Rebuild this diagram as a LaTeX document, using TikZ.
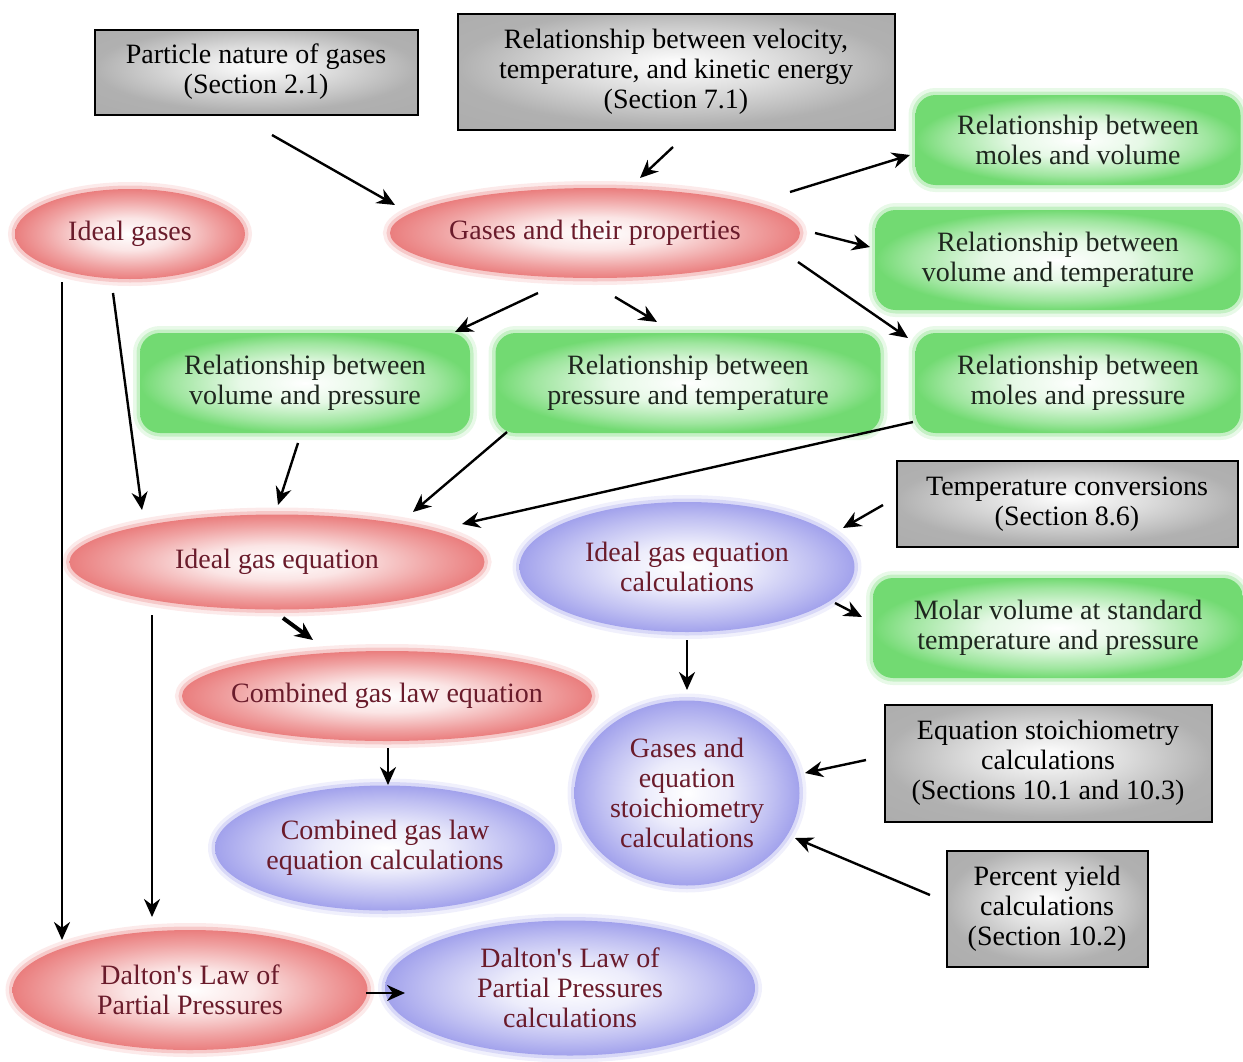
\documentclass[tikz,border=0pt]{standalone}
\usepackage{xcolor}
\usepackage{fontspec}
\setmainfont{Liberation Serif}[Ligatures=TeXOff]
\usetikzlibrary{arrows.meta, shapes.geometric}
\definecolor{gasred}{HTML}{EA7E7E}
\definecolor{gasblue}{HTML}{A2A2EC}
\definecolor{gasgreen}{HTML}{72DA72}
\definecolor{gasgray}{HTML}{A8A8A8}
\definecolor{gastext}{HTML}{6A1B2B}
\definecolor{boxtext}{HTML}{1E261E}
\pgfdeclareradialshading{redglow}{\pgfpoint{0bp}{0bp}}{color(0bp)=(white); color(9bp)=(gasred!20); color(19bp)=(gasred!72); color(25bp)=(gasred); color(50bp)=(gasred)}
\pgfdeclareradialshading{blueglow}{\pgfpoint{0bp}{0bp}}{color(0bp)=(white); color(9bp)=(gasblue!20); color(19bp)=(gasblue!68); color(25bp)=(gasblue); color(50bp)=(gasblue)}
\pgfdeclareradialshading{greenglow}{\pgfpoint{0bp}{0bp}}{color(0bp)=(white); color(10bp)=(gasgreen!18); color(20bp)=(gasgreen!68); color(25bp)=(gasgreen); color(50bp)=(gasgreen)}
\pgfdeclareradialshading{grayglow}{\pgfpoint{0bp}{4bp}}{color(0bp)=(white); color(12bp)=(gasgray!40); color(25bp)=(gasgray!90); color(50bp)=(gasgray)}
\newcommand\chartfont{\fontsize{14}{15}\selectfont}

\begin{document}
\begin{tikzpicture}[x=0.5pt, y=-0.5pt,
    halo/.style={preaction={draw=#1, line width=7pt, draw opacity=0.16}, preaction={draw=#1, line width=3.5pt, draw opacity=0.3}},
    oval/.style={ellipse, inner sep=0pt, inner xsep=-8pt, shading=redglow, halo=gasred, text=gastext, font=\chartfont, align=center},
    calcoval/.style={ellipse, inner sep=0pt, inner xsep=-4pt, shading=blueglow, halo=gasblue, text=gastext, font=\chartfont, align=center},
    topic/.style={rectangle, rounded corners=10pt, inner sep=0pt, shading=greenglow, halo=gasgreen, text=boxtext, font=\chartfont, align=center},
    prereq/.style={rectangle, draw=black, line width=1pt, inner sep=0pt, shading=grayglow, text=black, font=\chartfont, align=center},
    arrow/.style={-{Stealth[length=9pt, width=8pt]}, line width=1.2pt}
]
\useasboundingbox (0,0) rectangle (1243,1061);

% Earlier sections
\node[prereq, minimum width=161.5pt, minimum height=42.5pt] (part) at (256,72) {Particle nature of gases\\(Section 2.1)};
\node[prereq, minimum width=218.5pt, minimum height=58pt] (velo) at (676,72) {Relationship between velocity,\\temperature, and kinetic energy\\(Section 7.1)};
\node[prereq, minimum width=170.5pt, minimum height=43pt] (temp) at (1067,504) {Temperature conversions\\(Section 8.6)};
\node[prereq, minimum width=163.5pt, minimum height=58.5pt] (stoich) at (1048,763) {Equation stoichiometry\\calculations\\(Sections 10.1 and 10.3)};
\node[prereq, minimum width=100.5pt, minimum height=58pt] (yield) at (1047,909) {Percent yield\\calculations\\(Section 10.2)};

% Concepts
\node[oval, minimum width=115pt, minimum height=45pt] (ideal) at (130,234) {Ideal gases};
\node[oval, minimum width=205pt, minimum height=45pt] (props) at (595,233) {Gases and their properties};
\node[oval, minimum width=207.5pt, minimum height=47.5pt] (igeq) at (277,562) {Ideal gas equation};
\node[oval, minimum width=205pt, minimum height=45pt] (comb) at (387,696) {Combined gas law equation};
\node[oval, minimum width=177.5pt, minimum height=60pt] (dalton) at (190,990) {Dalton's Law of\\Partial Pressures};

% Relationships
\node[topic, minimum width=162.5pt, minimum height=45pt] (mv) at (1078,140) {Relationship between\\moles and volume};
\node[topic, minimum width=182.5pt, minimum height=50pt] (vt) at (1058,260) {Relationship between\\volume and temperature};
\node[topic, minimum width=162.5pt, minimum height=50pt] (mp) at (1078,383) {Relationship between\\moles and pressure};
\node[topic, minimum width=165pt, minimum height=50pt] (vp) at (305,383) {Relationship between\\volume and pressure};
\node[topic, minimum width=192.5pt, minimum height=50pt] (pt) at (688,383) {Relationship between\\pressure and temperature};
\node[topic, minimum width=185pt, minimum height=50pt] (molar) at (1058,628) {Molar volume at standard\\temperature and pressure};

% Calculations
\node[calcoval, minimum width=167.5pt, minimum height=65pt] (igcalc) at (687,567) {Ideal gas equation\\calculations};
\node[calcoval, minimum width=112.5pt, minimum height=92.5pt] (gstoich) at (687,793) {Gases and\\equation\\stoichiometry\\calculations};
\node[calcoval, minimum width=170pt, minimum height=62.5pt] (combcalc) at (385,848) {Combined gas law\\equation calculations};
\node[calcoval, minimum width=185pt, minimum height=67.5pt] (daltcalc) at (570,988) {Dalton's Law of\\Partial Pressures\\calculations};

% Links
\draw[arrow] ([shift={(16,63)}]part.center) -- ([shift={(-200,-28)}]props.center);
\draw[arrow] ([shift={(-3,75)}]velo.center) -- ([shift={(45,-55)}]props.center);
\draw[arrow] ([shift={(195,-41)}]props.center) -- ([shift={(-168,15)}]mv.center);
\draw[arrow] ([shift={(220,0)}]props.center) -- ([shift={(-188,-13)}]vt.center);
\draw[arrow] ([shift={(203,29)}]props.center) -- ([shift={(-170,-45)}]mp.center);
\draw[arrow] ([shift={(-57,60)}]props.center) -- ([shift={(150,-51)}]vp.center);
\draw[arrow] ([shift={(20,64)}]props.center) -- ([shift={(-31,-61)}]pt.center);
\draw[arrow] ([shift={(-68,48)}]ideal.center) -- ([shift={(-128,-50)}]dalton.center);
\draw[arrow] ([shift={(-17,59)}]ideal.center) -- ([shift={(-135,-52)}]igeq.center);
\draw[arrow] ([shift={(-7,60)}]vp.center) -- ([shift={(1,-57)}]igeq.center);
\draw[arrow] ([shift={(-181,49)}]pt.center) -- ([shift={(136,-50)}]igeq.center);
\draw[arrow] ([shift={(-165,39)}]mp.center) -- ([shift={(185,-38)}]igeq.center);
\draw[arrow] ([shift={(-184,1)}]temp.center) -- ([shift={(156,-39)}]igcalc.center);
\draw[arrow] ([shift={(148,36)}]igcalc.center) -- ([shift={(-196,-11)}]molar.center);
\draw[arrow, line width=2pt] ([shift={(6,56)}]igeq.center) -- ([shift={(-74,-56)}]comb.center);
\draw[arrow] ([shift={(0,73)}]igcalc.center) -- ([shift={(0,-103)}]gstoich.center);
\draw[arrow] ([shift={(1,52)}]comb.center) -- ([shift={(3,-63)}]combcalc.center);
\draw[arrow] ([shift={(-125,53)}]igeq.center) -- ([shift={(-38,-73)}]dalton.center);
\draw[arrow] ([shift={(-182,-3)}]stoich.center) -- ([shift={(118,-20)}]gstoich.center);
\draw[arrow] ([shift={(-117,-14)}]yield.center) -- ([shift={(108,45)}]gstoich.center);
\draw[arrow] ([shift={(176,3)}]dalton.center) -- ([shift={(-165,5)}]daltcalc.center);

\end{tikzpicture}
\end{document}
